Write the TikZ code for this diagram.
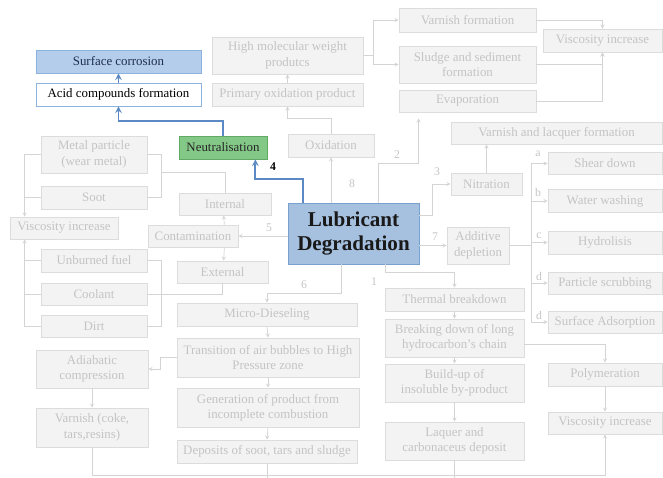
\documentclass[tikz,border=0pt]{standalone}
\usepackage{fontspec}
\setmainfont{Liberation Serif}
\usetikzlibrary{calc}
\tikzset{>=stealth}
\definecolor{boxfill}{RGB}{243,243,243}
\definecolor{boxdraw}{RGB}{220,220,220}
\definecolor{boxtext}{RGB}{196,196,196}
\definecolor{linegray}{RGB}{212,212,212}
\definecolor{lightblue}{RGB}{180,205,235}
\definecolor{blueedge}{RGB}{140,178,224}
\definecolor{mainfill}{RGB}{166,192,224}
\definecolor{mainedge}{RGB}{122,160,208}
\definecolor{greenfill}{RGB}{132,200,136}
\definecolor{greenedge}{RGB}{96,170,100}
\definecolor{bluepath}{RGB}{91,137,196}
\definecolor{navytext}{RGB}{30,45,80}
\tikzset{
  sz/.style 2 args={minimum width=#1*0.03cm, minimum height=#2*0.03cm},
  gbox/.style={draw=boxdraw, fill=boxfill, text=boxtext, inner sep=0pt, align=center,
    line width=0.6pt, font=\fontsize{11}{13}\selectfont},
  bluebox/.style={gbox, draw=blueedge, fill=lightblue, text=navytext},
  greenbox/.style={gbox, draw=greenedge, fill=greenfill, text=black!85},
  mainbox/.style={gbox, draw=mainedge, fill=mainfill, text=black!90,
    font=\fontsize{18}{21}\selectfont\bfseries},
  gline/.style={draw=linegray, line width=0.6pt},
  garrow/.style={gline, ->},
  blueline/.style={draw=bluepath, line width=1.5pt, ->},
  num/.style={text=boxtext, font=\fontsize{10}{10}\selectfont},
}
\begin{document}
\begin{tikzpicture}[x=0.03cm, y=-0.03cm]
\useasboundingbox (0,0) rectangle (663,478);

% centre
\node[mainbox, sz={131}{61}] (lub) at (353.5,233.5) {Lubricant\\Degradation};

% neutralisation (highlighted)
\node[greenbox, sz={88}{23}] (neut) at (223,147.5) {Neutralisation};
\node[bluebox, sz={165}{23}, fill=white, text=black] (acid) at (118.5,94.5) {Acid compounds formation};
\node[bluebox, sz={165}{23}] (surf) at (118.5,61.5) {Surface corrosion};

% oxidation
\node[gbox, sz={86}{23}] (oxid) at (331,145.5) {Oxidation};
\node[gbox, sz={151}{23}] (prim) at (287.5,94.5) {Primary oxidation product};
\node[gbox, sz={151}{37}] (hmw) at (287.5,55.5) {High molecular weight\\produtcs};
\node[gbox, sz={137}{24}] (varf) at (467.5,20) {Varnish formation};
\node[gbox, sz={137}{37}] (sludge) at (467.5,64.5) {Sludge and sediment\\formation};
\node[gbox, sz={137}{22}] (evap) at (467.5,101) {Evaporation};
\node[gbox, sz={119}{23}] (viscT) at (602.5,40.5) {Viscosity increase};

% nitration and additive depletion
\node[gbox, sz={71}{22}] (nitr) at (486.5,184) {Nitration};
\node[gbox, sz={211}{22}] (vlf) at (556.5,133) {Varnish and lacquer formation};
\node[gbox, sz={62}{37}] (addit) at (478,245.5) {Additive\\depletion};
\node[gbox, sz={114}{22}] (shear) at (605,163.5) {Shear down};
\node[gbox, sz={114}{23}] (water) at (605,201) {Water washing};
\node[gbox, sz={114}{23}] (hydro) at (605,242.5) {Hydrolisis};
\node[gbox, sz={114}{22}] (partic) at (605,283) {Particle scrubbing};
\node[gbox, sz={114}{22}] (surfad) at (605,322) {Surface Adsorption};

% thermal breakdown
\node[gbox, sz={139}{23}] (therm) at (454.5,299.5) {Thermal breakdown};
\node[gbox, sz={139}{38}] (brk) at (454.5,338) {Breaking down of long\\hydrocarbon’s chain};
\node[gbox, sz={139}{38}] (build) at (454.5,383) {Build-up of\\insoluble by-product};
\node[gbox, sz={139}{38}] (laq) at (454.5,441) {Laquer and\\carbonaceus deposit};
\node[gbox, sz={114}{23}] (poly) at (605,374.5) {Polymeration};
\node[gbox, sz={114}{22}] (viscB) at (605,423) {Viscosity increase};

% micro-dieseling
\node[gbox, sz={180}{23}] (micro) at (267,314.5) {Micro-Dieseling};
\node[gbox, sz={182}{39}] (trans) at (268,357.5) {Transition of air bubbles to High\\Pressure zone};
\node[gbox, sz={182}{39}] (gen) at (268,407.5) {Generation of product from\\incomplete combustion};
\node[gbox, sz={180}{23}] (depo) at (267,451.5) {Deposits of soot, tars and sludge};
\node[gbox, sz={112}{38}] (adia) at (92,369) {Adiabatic\\compression};
\node[gbox, sz={112}{39}] (varc) at (92,427.5) {Varnish (coke,\\tars,resins)};

% contamination
\node[gbox, sz={92}{22}] (intern) at (225,204) {Internal};
\node[gbox, sz={90}{22}] (contam) at (193,236) {Contamination};
\node[gbox, sz={91}{22}] (extern) at (222.5,272) {External};
\node[gbox, sz={106}{37}] (metal) at (94,154.5) {Metal particle\\(wear metal)};
\node[gbox, sz={106}{23}] (soot) at (94,197.5) {Soot};
\node[gbox, sz={108}{22}] (viscL) at (64,228) {Viscosity increase};
\node[gbox, sz={106}{23}] (unb) at (94,260.5) {Unburned fuel};
\node[gbox, sz={106}{22}] (cool) at (94,294) {Coolant};
\node[gbox, sz={106}{22}] (dirt) at (94,326) {Dirt};

% highlighted path
\draw[blueline] ($(lub.north west)+(15,0)$) |- ($(neut.south east)+(-12,20)$) -- ($(neut.south east)+(-12,0)$);
\draw[blueline] (neut.north) |- ($(acid.south)+(0,15)$) -- (acid.south);
\draw[blueline] (acid.north) -- (surf.south);
\node[font=\fontsize{10}{10}\selectfont\bfseries] (n4) at (273,167) {4};

% oxidation links
\draw[garrow] (lub.north -| oxid.south) -- (oxid.south);
\draw[garrow] (oxid.north) |- ($(prim.south)+(0,12)$) -- (prim.south);
\draw[garrow] (prim.north) -- (hmw.south);
\draw[garrow] (hmw.east) -- ++(10,0) |- (varf.west);
\draw[garrow] (hmw.east) -- ++(10,0) |- (sludge.west);
\draw[garrow] (varf.east) -| (viscT.north);
\draw[garrow] (sludge.east) -| (viscT.south);
\draw[garrow] (evap.east) -| (viscT.south);
\draw[garrow] ($(lub.north west)+(91,0)$) |- ($(evap.south west)+(20,51)$) -- ($(evap.south west)+(20,6)$);

% nitration, additives
\draw[garrow] ($(lub.north east)+(0,13)$) -- ++(13,0) |- (nitr.west);
\draw[garrow] (nitr.north) -- (nitr.north |- vlf.south);
\draw[garrow] (addit.west -| lub.east) -- (addit.west);
\foreach \t in {shear,water,hydro,partic,surfad}
  \draw[garrow] (addit.east) -- ++(22,0) |- (\t.west);

% thermal
\draw[garrow] ($(lub.south east)+(-34,0)$) |- ($(therm.north)+(0,-15)$) -- (therm.north);
\draw[garrow] (therm.south) -- (brk.north);
\draw[garrow] (brk.south) -- (build.north);
\draw[garrow] (build.south) -- (laq.north);
\draw[garrow] ($(brk.east)+(0,6)$) -| (poly.north);
\draw[garrow] (poly.south) -- (viscB.north);

% micro-dieseling
\draw[garrow] ($(lub.south west)+(54,0)$) |- ($(micro.north)+(0,-9)$) -- (micro.north);
\draw[garrow] (micro.south) -- (trans.north);
\draw[garrow] (trans.south) -- (gen.north);
\draw[garrow] (gen.south) -- (depo.north);
\draw[garrow] (trans.west) -- ++(-16,0) |- (adia.east);
\draw[garrow] (adia.south) -- (varc.north);

% bottom line
\draw[garrow] (varc.south) -- ++(0,28) -| (viscB.south);
\draw[gline] (depo.south) -- ++(0,24);
\draw[gline] (laq.south) -- ++(0,34.5);

% contamination
\draw[garrow] (contam.east -| lub.west) -- (contam.east);
\draw[garrow] ($(contam.north east)+(-14,0)$) -- ($(intern.south west)+(45,0)$);
\draw[garrow] ($(contam.south east)+(-14,0)$) -- ($(extern.north west)+(47,0)$);
\draw[gline] (intern.north) |- ($(metal.east)+(14,18)$);
\draw[gline] (metal.east) -- ++(14,0) |- (soot.east);
\draw[gline] (extern.south) |- (cool.east);
\draw[gline] (unb.east) -- ++(14,0) |- (dirt.east);
\draw[garrow] (metal.west) -- ++(-16,0) -- ($(viscL.north west)+(15,0)$);
\draw[gline] (soot.west) -- ++(-16,0);
\draw[garrow] (dirt.west) -- ++(-16,0) -- ($(viscL.south west)+(15,0)$);
\draw[gline] (unb.west) -- ++(-16,0);
\draw[gline] (cool.west) -- ++(-16,0);

% branch numbers
\node[num] (n1) at (374,282) {1};
\node[num] (n2) at (397,155) {2};
\node[num] (n3) at (437,172) {3};
\node[num] (n5) at (269,228) {5};
\node[num] (n6) at (304,285) {6};
\node[num] (n7) at (435,237) {7};
\node[num] (n8) at (352,184) {8};
\node[num] (la) at (538,154) {a};
\node[num] (lb) at (538,192) {b};
\node[num] (lc) at (539,236) {c};
\node[num] (ld) at (539,276) {d};
\node[num] (le) at (539,315) {d};
\end{tikzpicture}
\end{document}
